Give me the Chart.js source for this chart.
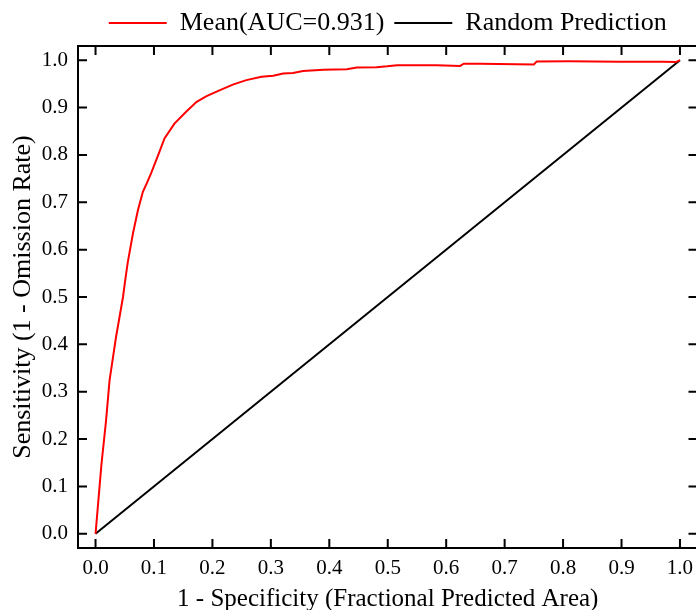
<!DOCTYPE html>
<html>
<head>
<meta charset="utf-8">
<script src="https://cdn.jsdelivr.net/npm/chart.js@4.4.0/dist/chart.umd.min.js"></script>
<style>
  html, body { margin: 0; padding: 0; background: #fff; overflow: hidden; }
  #wrap { width: 720px; height: 610px; }
</style>
</head>
<body>
<div id="wrap"><canvas id="roc"></canvas></div>
<script>
// mean ROC curve
const meanFpr = [0, 0.01, 0.018, 0.024, 0.035, 0.047, 0.051, 0.055, 0.064, 0.0725, 0.081, 0.088, 0.095,
  0.107, 0.118, 0.135, 0.155, 0.173, 0.19, 0.213, 0.236, 0.258, 0.284, 0.304, 0.321, 0.338, 0.355,
  0.39, 0.43, 0.447, 0.481, 0.499, 0.516, 0.584, 0.624, 0.63, 0.658, 0.75, 0.755, 0.81, 0.898, 0.972, 0.993, 1.0];
const meanTpr = [0, 0.145, 0.239, 0.324, 0.415, 0.5, 0.537, 0.572, 0.634, 0.683, 0.722, 0.741, 0.761,
  0.799, 0.835, 0.866, 0.891, 0.912, 0.924, 0.937, 0.949, 0.958, 0.965, 0.967, 0.972, 0.973, 0.977,
  0.980, 0.981, 0.9845, 0.985, 0.987, 0.9895, 0.9895, 0.988, 0.9925, 0.9925, 0.991, 0.9975, 0.998, 0.997, 0.9965, 0.996, 1.0];

// random prediction diagonal
const randomFpr = [0, 1];
const randomTpr = [0, 1];

const xTicks = [0, 0.1, 0.2, 0.3, 0.4, 0.5, 0.6, 0.7, 0.8, 0.9, 1.0];
const yTicks = [0, 0.1, 0.2, 0.3, 0.4, 0.5, 0.6, 0.7, 0.8, 0.9, 1.0];
const tickLabels = ['0.0', '0.1', '0.2', '0.3', '0.4', '0.5', '0.6', '0.7', '0.8', '0.9', '1.0'];

const serif = "'Liberation Serif', 'Times New Roman', serif";

// box around the plot with inward ticks on all four sides
const frameTicks = {
  id: 'frameTicks',
  afterDraw(chart) {
    const { ctx, chartArea: a, scales: { x, y } } = chart;
    const len = 9;
    ctx.save();
    ctx.strokeStyle = '#000';
    ctx.lineWidth = 2;
    ctx.strokeRect(a.left, a.top, a.right - a.left, a.bottom - a.top);
    ctx.beginPath();
    xTicks.forEach(v => {
      const px = x.getPixelForValue(v);
      ctx.moveTo(px, a.bottom); ctx.lineTo(px, a.bottom - len);
      ctx.moveTo(px, a.top); ctx.lineTo(px, a.top + len);
    });
    yTicks.forEach(v => {
      const py = y.getPixelForValue(v);
      ctx.moveTo(a.left, py); ctx.lineTo(a.left + len, py);
      ctx.moveTo(a.right, py); ctx.lineTo(a.right - len, py);
    });
    ctx.stroke();
    ctx.restore();
  }
};

new Chart(document.getElementById('roc'), {
  type: 'scatter',
  data: {
    datasets: [
      {
        label: 'Mean(AUC=0.931)',
        data: meanFpr.map((v, i) => ({ x: v, y: meanTpr[i] })),
        showLine: true,
        borderColor: '#ff0000',
        backgroundColor: '#ff0000',
        borderWidth: 2,
        pointRadius: 0,
        tension: 0,
      },
      {
        label: 'Random Prediction',
        data: randomFpr.map((v, i) => ({ x: v, y: randomTpr[i] })),
        showLine: true,
        borderColor: '#000000',
        backgroundColor: '#000000',
        borderWidth: 2,
        pointRadius: 0,
        tension: 0,
      },
    ],
  },
  options: {
    responsive: true,
    maintainAspectRatio: false,
    animation: false,
    layout: { padding: { left: 0, top: 0, right: 22.5, bottom: 0 } },
    scales: {
      x: {
        type: 'linear',
        min: -0.03,
        max: 1.03,
        afterBuildTicks: s => { s.ticks = xTicks.map(v => ({ value: v })); },
        afterFit: s => { s.height = 62; },
        grid: { display: false, drawTicks: false },
        border: { display: false },
        ticks: {
          autoSkip: false,
          maxRotation: 0,
          padding: 8,
          color: '#000',
          font: { family: serif, size: 21 },
          callback: (v, i) => tickLabels[i],
        },
        title: {
          display: true,
          text: '1 - Specificity (Fractional Predicted Area)',
          color: '#000',
          font: { family: serif, size: 25 },
          padding: { top: 0, bottom: -4 },
        },
      },
      y: {
        type: 'linear',
        min: -0.03,
        max: 1.03,
        afterBuildTicks: s => { s.ticks = yTicks.map(v => ({ value: v })); },
        afterFit: s => { s.width = 78; },
        grid: { display: false, drawTicks: false },
        border: { display: false },
        ticks: {
          autoSkip: false,
          padding: 10,
          color: '#000',
          font: { family: serif, size: 21 },
          callback: (v, i) => tickLabels[i],
        },
        title: {
          display: true,
          text: 'Sensitivity (1 - Omission Rate)',
          color: '#000',
          font: { family: serif, size: 26 },
          padding: { top: 8, bottom: 0 },
        },
      },
    },
    plugins: {
      legend: {
        display: true,
        position: 'top',
        fullSize: false,
        labels: {
          boxWidth: 58,
          boxHeight: 0,
          padding: 10,
          color: '#000',
          font: { family: serif, size: 26 },
        },
      },
      tooltip: { enabled: false },
    },
  },
  plugins: [frameTicks],
});
</script>
</body>
</html>
